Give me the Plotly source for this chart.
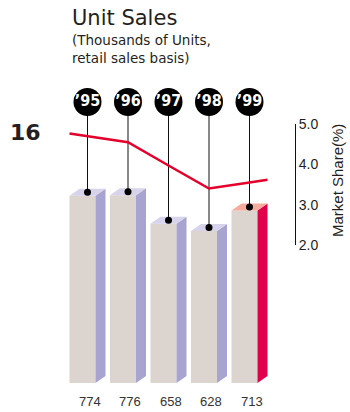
import numpy as np
import plotly.graph_objects as go

# ---------------- data ----------------
years = ["’95", "’96", "’97", "’98", "’99"]
unit_sales = [774, 776, 658, 628, 713]          # thousands of units
market_share = [4.70, 4.55, 3.97, 3.40, 3.55]   # percent
share_ticks = [2.0, 3.0, 4.0, 5.0]

# ---------------- geometry / style ----------------
W, H = 350, 412
PL, PR, PT, PB = 60, 295, 80, 383          # plot area in pixels
PX_PER_IDX = 40.5
IDX0_PX = 87.5
PX_PER_UNIT = 0.242

x_lo = (PL - IDX0_PX) / PX_PER_IDX
x_hi = (PR - IDX0_PX) / PX_PER_IDX
y_hi = (PB - PT) / PX_PER_UNIT

dx = 10 / PX_PER_IDX          # depth (x) in index units
dy = 7 / PX_PER_UNIT          # depth (y) in data units
fw = 26 / PX_PER_IDX          # front face width

FRONT = "#dcd4cf"
SIDE = "#a7a4d0"
TOP = "#d6d3ea"
SIDE_HI = "#e0004b"
TOP_HI = "#f6ab9c"
RED = "#e4002b"
TXT = "#231f20"


def py(pix):  # pixel y -> paper y
    return (PB - pix) / (PB - PT)


def pxp(pix):  # pixel x -> paper x
    return (pix - PL) / (PR - PL)


fig = go.Figure()

n = len(unit_sales)
idx = np.arange(n)

# front faces
fig.add_trace(go.Bar(
    x=idx - dx / 2, y=unit_sales, width=fw,
    marker=dict(color=FRONT, line=dict(width=0)),
    hoverinfo="skip", showlegend=False,
))

# side and top faces
for i, v in enumerate(unit_sales):
    xl = i - dx / 2 - fw / 2
    xr = xl + fw
    hi = i == n - 1
    fig.add_trace(go.Scatter(
        x=[xr, xr + dx, xr + dx, xr, xr],
        y=[0, dy, v + dy, v, 0],
        mode="lines", fill="toself", fillcolor=SIDE_HI if hi else SIDE,
        line=dict(width=0), hoverinfo="skip", showlegend=False,
    ))
    fig.add_trace(go.Scatter(
        x=[xl, xr, xr + dx, xl + dx, xl],
        y=[v, v, v + dy, v + dy, v],
        mode="lines", fill="toself", fillcolor=TOP_HI if hi else TOP,
        line=dict(width=0), hoverinfo="skip", showlegend=False,
    ))

# pins
badge_y = (PB - 102) / PX_PER_UNIT
pin_x, pin_y = [], []
for i, v in enumerate(unit_sales):
    pin_x += [i, i, None]
    pin_y += [badge_y, v + dy / 2, None]
fig.add_trace(go.Scatter(
    x=pin_x, y=pin_y, mode="lines", line=dict(color="#111111", width=1),
    hoverinfo="skip", showlegend=False,
))
fig.add_trace(go.Scatter(
    x=idx, y=[v + dy / 2 for v in unit_sales], mode="markers",
    marker=dict(color="#000000", size=7),
    hoverinfo="skip", showlegend=False,
))

# year badges
fig.add_trace(go.Scatter(
    x=idx, y=[badge_y] * n, mode="markers+text",
    text=[f"<b>{y}</b>" for y in years],
    textposition="middle center",
    textfont=dict(color="white", size=16,
                  family="Liberation Sans Narrow, DejaVu Sans Condensed, Liberation Sans"),
    marker=dict(color="#000000", size=28, line=dict(width=0)),
    hoverinfo="skip", showlegend=False,
))

# market share line (extended to bar edges)
x_left = -dx / 2 - fw / 2
x_right = (n - 1) - dx / 2 + fw / 2 + dx
s0 = market_share[0] + (market_share[0] - market_share[1]) * (0 - x_left)
s1 = market_share[-1] + (market_share[-1] - market_share[-2]) * (x_right - (n - 1))
fig.add_trace(go.Scatter(
    x=[x_left] + list(idx) + [x_right],
    y=[s0] + market_share + [s1],
    yaxis="y2", mode="lines", line=dict(color=RED, width=2.5),
    hoverinfo="skip", showlegend=False,
))

annotations = []
# value labels under bars
for i, v in enumerate(unit_sales):
    annotations.append(dict(
        x=i + 0.05, xref="x", y=py(401.5), yref="paper", text=str(v),
        showarrow=False, xanchor="center", yanchor="middle",
        font=dict(size=13, color="#333333", family="Liberation Sans"),
    ))

annotations += [
    dict(x=pxp(70), y=py(4), xref="paper", yref="paper", text="Unit Sales",
         showarrow=False, xanchor="left", yanchor="top",
         font=dict(size=21, color=TXT, family="DejaVu Sans")),
    dict(x=pxp(70), y=py(30), xref="paper", yref="paper",
         text="(Thousands of Units,<br>retail sales basis)", align="left",
         showarrow=False, xanchor="left", yanchor="top",
         font=dict(size=13.5, color=TXT, family="DejaVu Sans")),
    dict(x=pxp(25), y=py(132), xref="paper", yref="paper", text="<b>16</b>",
         showarrow=False, xanchor="center", yanchor="middle",
         font=dict(size=22, color=TXT, family="DejaVu Sans")),
    dict(x=pxp(337), y=py(181), xref="paper", yref="paper", text="Market Share(%)",
         textangle=-90, showarrow=False, xanchor="center", yanchor="middle",
         font=dict(size=15, color=TXT, family="Liberation Sans")),
]

fig.update_layout(
    width=W, height=H, autosize=False,
    margin=dict(l=PL, r=W - PR, t=PT, b=H - PB, pad=0),
    paper_bgcolor="white", plot_bgcolor="rgba(0,0,0,0)",
    showlegend=False,
    xaxis=dict(range=[x_lo, x_hi], visible=False, fixedrange=True),
    yaxis=dict(range=[0, y_hi], visible=False, fixedrange=True, domain=[0, 1]),
    yaxis2=dict(
        range=[2, 5], domain=[py(245), py(124)], anchor="x", side="right",
        showline=True, linecolor="#111111", linewidth=1, showgrid=False,
        zeroline=False, ticks="", tickvals=share_ticks,
        ticktext=[f"{t:.1f}" for t in share_ticks],
        tickfont=dict(size=14, color=TXT, family="Liberation Sans"),
        fixedrange=True,
    ),
    annotations=annotations,
)

fig.write_html("out.html")
